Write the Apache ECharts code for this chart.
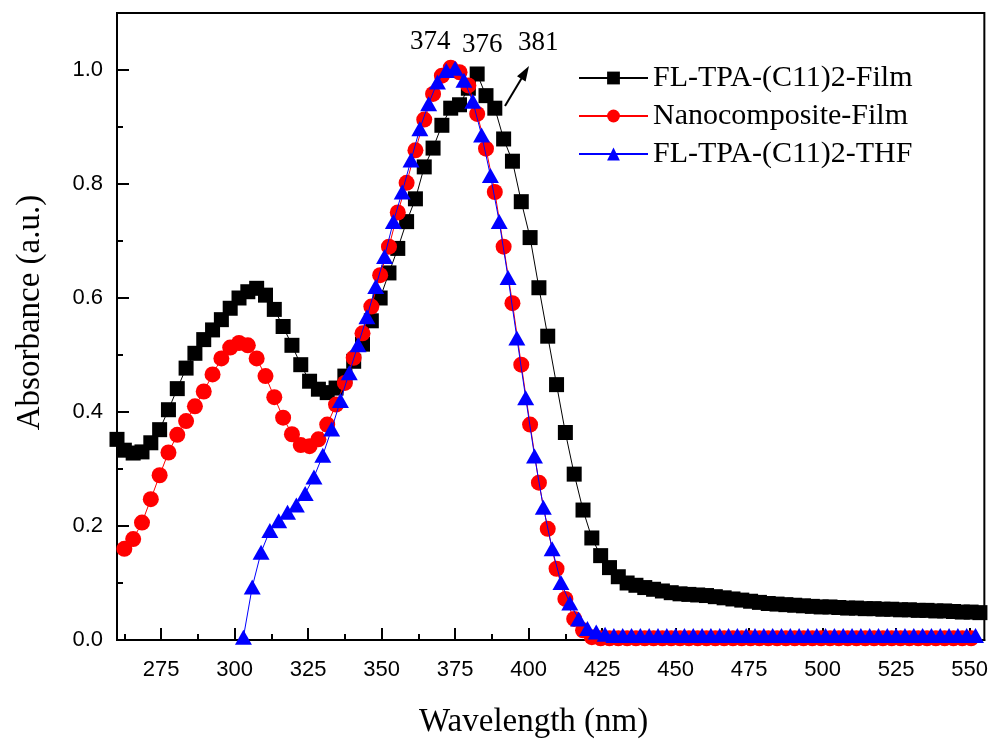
<!DOCTYPE html>
<html><head><meta charset="utf-8">
<script src="https://cdn.jsdelivr.net/npm/echarts@6/dist/echarts.min.js"></script>
<style>html,body{margin:0;padding:0;background:#fff}#c{width:991px;height:744px}</style>
</head><body><div id="c"></div>
<script>
// ---- data ----
const seriesNames = ['FL-TPA-(C11)2-Film', 'Nanocomposite-Film', 'FL-TPA-(C11)2-THF'];

const filmWl = [260, 262.5, 265.5, 268.5, 271.5, 274.5, 277.5, 280.5, 283.5, 286.5, 289.5, 292.5, 295.5, 298.5, 301.5, 304.5, 307.5, 310.5, 313.5, 316.5, 319.5, 322.5, 325.5, 328.5, 331.5, 334.5, 337.5, 340.5, 343.5, 346.5, 349.5, 352.5, 355.5, 358.5, 361.5, 364.5, 367.5, 370.5, 373.5, 376.5, 379.5, 382.5, 385.5, 388.5, 391.5, 394.5, 397.5, 400.5, 403.5, 406.5, 409.5, 412.5, 415.5, 418.5, 421.5, 424.5, 427.5, 430.5, 433.5, 436.5, 439.5, 442.5, 445.5, 448.5, 451.5, 454.5, 457.5, 460.5, 463.5, 466.5, 469.5, 472.5, 475.5, 478.5, 481.5, 484.5, 487.5, 490.5, 493.5, 496.5, 499.5, 502.5, 505.5, 508.5, 511.5, 514.5, 517.5, 520.5, 523.5, 526.5, 529.5, 532.5, 535.5, 538.5, 541.5, 544.5, 547.5, 550.5, 553.5];
const filmAbs = [0.352, 0.333, 0.328, 0.330, 0.346, 0.369, 0.404, 0.441, 0.477, 0.503,
  0.527, 0.544, 0.562, 0.582, 0.600, 0.611, 0.617, 0.605, 0.580, 0.550,
  0.517, 0.483, 0.454, 0.440, 0.434, 0.442, 0.463, 0.489, 0.519, 0.560,
  0.600, 0.644, 0.687, 0.734, 0.774, 0.830, 0.863, 0.903, 0.933, 0.939,
  0.968, 0.993, 0.955, 0.933, 0.879, 0.840, 0.769, 0.706, 0.618, 0.533,
  0.448, 0.364, 0.291, 0.228, 0.179, 0.148, 0.127, 0.111, 0.100, 0.096,
  0.092, 0.089, 0.086, 0.083, 0.081, 0.080, 0.079, 0.078, 0.076, 0.074,
  0.072, 0.070, 0.068, 0.066, 0.064, 0.063, 0.062, 0.061, 0.060, 0.059,
  0.058, 0.058, 0.057, 0.056, 0.056, 0.055, 0.055, 0.054, 0.054, 0.053,
  0.053, 0.052, 0.052, 0.051, 0.051, 0.050, 0.049, 0.049, 0.048];

const nanoWl = [262.5, 265.5, 268.5, 271.5, 274.5, 277.5, 280.5, 283.5, 286.5, 289.5, 292.5, 295.5, 298.5, 301.5, 304.5, 307.5, 310.5, 313.5, 316.5, 319.5, 322.5, 325.5, 328.5, 331.5, 334.5, 337.5, 340.5, 343.5, 346.5, 349.5, 352.5, 355.5, 358.5, 361.5, 364.5, 367.5, 370.5, 373.5, 376.5, 379.5, 382.5, 385.5, 388.5, 391.5, 394.5, 397.5, 400.5, 403.5, 406.5, 409.5, 412.5, 415.5, 418.5, 421.5, 424.5, 427.5, 430.5, 433.5, 436.5, 439.5, 442.5, 445.5, 448.5, 451.5, 454.5, 457.5, 460.5, 463.5, 466.5, 469.5, 472.5, 475.5, 478.5, 481.5, 484.5, 487.5, 490.5, 493.5, 496.5, 499.5, 502.5, 505.5, 508.5, 511.5, 514.5, 517.5, 520.5, 523.5, 526.5, 529.5, 532.5, 535.5, 538.5, 541.5, 544.5, 547.5, 550.5];
const nanoAbs = [0.160, 0.177, 0.206, 0.247, 0.289, 0.329, 0.360, 0.384, 0.410, 0.436,
  0.466, 0.494, 0.513, 0.521, 0.517, 0.494, 0.463, 0.426, 0.390, 0.361,
  0.342, 0.340, 0.352, 0.378, 0.413, 0.451, 0.495, 0.538, 0.585, 0.640,
  0.690, 0.750, 0.802, 0.859, 0.913, 0.958, 0.990, 1.004, 0.996, 0.973,
  0.923, 0.862, 0.786, 0.690, 0.591, 0.483, 0.378, 0.276, 0.195, 0.125,
  0.072, 0.037, 0.017, 0.005, 0.003, 0.003, 0.003, 0.003, 0.003, 0.003,
  0.003, 0.003, 0.003, 0.003, 0.003, 0.003, 0.003, 0.003, 0.003, 0.003,
  0.003, 0.003, 0.003, 0.003, 0.003, 0.003, 0.003, 0.003, 0.003, 0.003,
  0.003, 0.003, 0.003, 0.003, 0.003, 0.003, 0.003, 0.003, 0.003, 0.003,
  0.003, 0.003, 0.003, 0.003, 0.003, 0.003, 0.003];

const thfWl = [303, 306, 309, 312, 315, 318, 321, 324, 327, 330, 333, 336, 339, 342, 345, 348, 351, 354, 357, 360, 363, 366, 369, 372, 375, 378, 381, 384, 387, 390, 393, 396, 399, 402, 405, 408, 411, 414, 417, 420, 423, 426, 429, 432, 435, 438, 441, 444, 447, 450, 453, 456, 459, 462, 465, 468, 471, 474, 477, 480, 483, 486, 489, 492, 495, 498, 501, 504, 507, 510, 513, 516, 519, 522, 525, 528, 531, 534, 537, 540, 543, 546, 549, 552];
const thfAbs = [0.005, 0.093, 0.154, 0.192, 0.209, 0.224, 0.237, 0.257, 0.286, 0.324,
  0.370, 0.420, 0.469, 0.518, 0.567, 0.620, 0.673, 0.734, 0.786, 0.842,
  0.897, 0.941, 0.979, 0.999, 1.003, 0.982, 0.945, 0.886, 0.815, 0.734,
  0.636, 0.530, 0.425, 0.323, 0.233, 0.160, 0.101, 0.065, 0.037, 0.020,
  0.014, 0.010, 0.008, 0.008, 0.008, 0.008, 0.008, 0.008, 0.008, 0.008,
  0.008, 0.008, 0.008, 0.008, 0.008, 0.008, 0.008, 0.008, 0.008, 0.008,
  0.008, 0.008, 0.008, 0.008, 0.008, 0.008, 0.008, 0.008, 0.008, 0.008,
  0.008, 0.008, 0.008, 0.008, 0.008, 0.008, 0.008, 0.008, 0.008, 0.008,
  0.008, 0.008, 0.008, 0.008];

const xMajorTicks = [275, 300, 325, 350, 375, 400, 425, 450, 475, 500, 525, 550];
const xMinorTicks = [262.5, 287.5, 312.5, 337.5, 362.5, 387.5, 412.5, 437.5, 462.5, 487.5, 512.5, 537.5];
const yMajorTicks = [0.2, 0.4, 0.6, 0.8, 1.0];
const yMinorTicks = [0.1, 0.3, 0.5, 0.7, 0.9];
const peakLabels = ['374', '376', '381'];

// ---- chart ----
const pair = (xs, ys) => xs.map((x, i) => [x, ys[i]]);
const serif = '"Liberation Serif", "Times New Roman", serif';
const sans = '"Liberation Sans", Arial, sans-serif';
const chart = echarts.init(document.getElementById('c'), null, {renderer: 'canvas'});

const X_MIN = 260, X_MAX = 555, Y_MIN = 0, Y_MAX = 1.1;

function tickAxis(kind, values, len) {
  return {
    type: 'value', min: kind === 'x' ? X_MIN : Y_MIN, max: kind === 'x' ? X_MAX : Y_MAX,
    position: kind === 'x' ? 'bottom' : 'left',
    axisLine: {show: false}, splitLine: {show: false},
    axisTick: {show: true, inside: true, length: len, lineStyle: {width: 2, color: '#000'}, customValues: values},
    axisLabel: {show: false}
  };
}

chart.setOption({
  animation: false,
  backgroundColor: '#fff',
  grid: {left: 117, right: 4, top: 13, bottom: 101, show: true, borderColor: '#000', borderWidth: 2, backgroundColor: 'transparent'},
  xAxis: [
    {
      type: 'value', min: X_MIN, max: X_MAX, position: 'bottom',
      axisLine: {show: true, lineStyle: {color: '#000', width: 2}},
      splitLine: {show: false},
      axisTick: {show: false},
      axisLabel: {show: true, customValues: xMajorTicks, color: '#000', fontFamily: sans, fontSize: 22, margin: 19},
      name: 'Wavelength (nm)', nameLocation: 'middle', nameGap: 66,
      nameTextStyle: {fontFamily: serif, fontSize: 33, color: '#000', padding: [0, 34, 0, 0]}
    },
    tickAxis('x', xMinorTicks, 6),
    tickAxis('x', xMajorTicks, 12)
  ],
  yAxis: [
    {
      type: 'value', min: Y_MIN, max: Y_MAX, interval: 0.2, position: 'left',
      axisLine: {show: true, lineStyle: {color: '#000', width: 2}},
      splitLine: {show: false},
      axisTick: {show: false},
      axisLabel: {show: true, color: '#000', fontFamily: sans, fontSize: 22, margin: 14,
        formatter: v => (v > 1.05 ? '' : v.toFixed(1))},
      name: 'Absorbance (a.u.)', nameLocation: 'middle', nameGap: 70, nameRotate: 90,
      nameTextStyle: {fontFamily: serif, fontSize: 33, color: '#000', padding: [0, 0, 0, 28]}
    },
    tickAxis('y', yMinorTicks, 6),
    tickAxis('y', yMajorTicks, 12)
  ],
  legend: {
    orient: 'vertical', left: 573, top: 58,
    itemWidth: 69, itemHeight: 16, itemGap: 8,
    data: seriesNames,
    textStyle: {fontFamily: serif, fontSize: 30, color: '#000', lineHeight: 30}
  },
  series: [
    {name: seriesNames[0], type: 'line', data: pair(filmWl, filmAbs), clip: false,
      symbol: 'rect', symbolSize: 15, color: '#000',
      lineStyle: {color: '#000', width: 1}, itemStyle: {color: '#000'}, z: 2},
    {name: seriesNames[1], type: 'line', data: pair(nanoWl, nanoAbs), clip: false,
      symbol: 'circle', symbolSize: 16, color: '#ff0000',
      lineStyle: {color: '#ff0000', width: 1}, itemStyle: {color: '#ff0000'}, z: 3},
    {name: seriesNames[2], type: 'line', data: pair(thfWl, thfAbs), clip: false,
      symbol: 'triangle', symbolSize: [17, 15], color: '#0000ff',
      lineStyle: {color: '#0000ff', width: 1}, itemStyle: {color: '#0000ff'}, z: 4}
  ],
  graphic: [
    {type: 'text', left: 410, top: 28, style: {text: peakLabels[0], font: '27px ' + serif, fill: '#000'}},
    {type: 'text', left: 462, top: 31, style: {text: peakLabels[1], font: '27px ' + serif, fill: '#000'}},
    {type: 'text', left: 518, top: 29, style: {text: peakLabels[2], font: '27px ' + serif, fill: '#000'}},
    {type: 'line', shape: {x1: 505, y1: 106, x2: 523, y2: 76}, style: {stroke: '#000', lineWidth: 2}},
    {type: 'polygon', shape: {points: [[529, 66], [517, 76.3], [525.6, 81.5]]}, style: {fill: '#000'}}
  ]
});
</script>
</body></html>
